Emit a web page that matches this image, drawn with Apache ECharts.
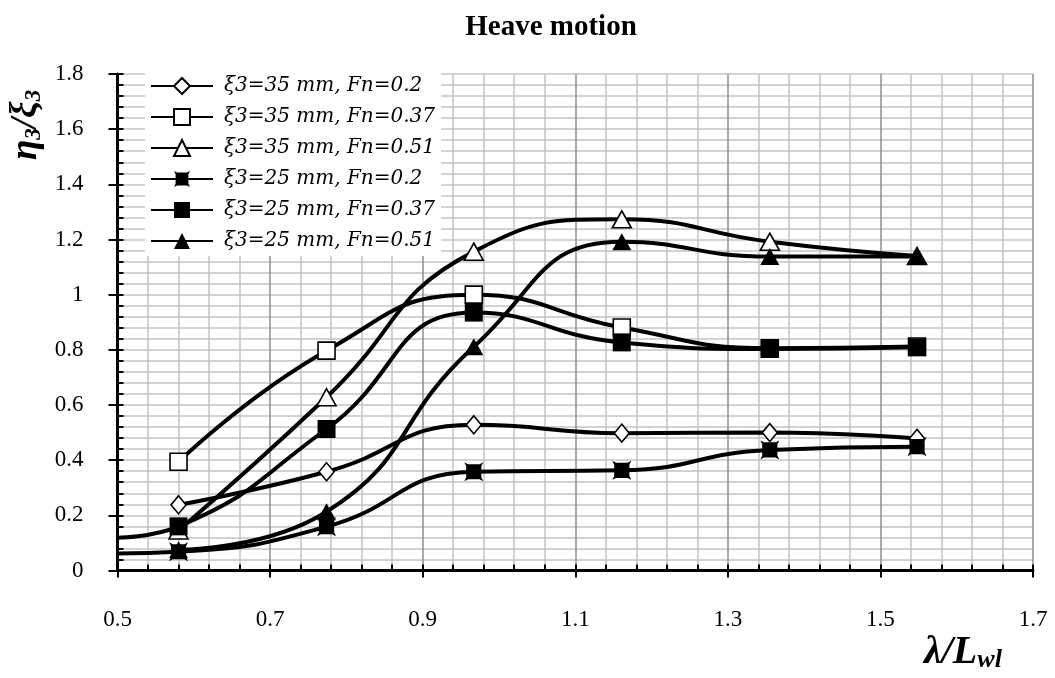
<!DOCTYPE html>
<html>
<head>
<meta charset="utf-8">
<title>Heave motion</title>
<script src="https://cdn.jsdelivr.net/npm/echarts@6/dist/echarts.min.js"></script>
<style>
  html, body { margin: 0; padding: 0; background: #fff; }
  #heave_ec { width: 1055px; height: 678px; }
</style>
</head>
<body>
<div id="heave_ec"></div>
<script>
// wave length ratio λ/Lwl of the test runs
const lambdaX = [0.58, 0.774, 0.967, 1.161, 1.355, 1.548]
// η3/ξ3 for every run
const amp35Fn020 = [0.238, 0.358, 0.528, 0.498, 0.5, 0.479]
const amp35Fn037 = [0.394, 0.797, 1.0, 0.881, 0.806, 0.812]
const amp35Fn051 = [0.145, 0.628, 1.156, 1.273, 1.192, 1.14]
const amp25Fn020 = [0.068, 0.159, 0.358, 0.363, 0.437, 0.449]
const amp25Fn037 = [0.16, 0.513, 0.935, 0.827, 0.803, 0.809]
const amp25Fn051 = [0.075, 0.213, 0.811, 1.192, 1.138, 1.138]
// the curve of two runs starts at the left edge of the plot, no marker there
const edgeX = 0.5
const edge25Fn020 = 0.062
const edge25Fn037 = 0.119
const xTicks = [0.5, 0.7, 0.9, 1.1, 1.3, 1.5, 1.7]
const yTicks = [0, 0.2, 0.4, 0.6, 0.8, 1, 1.2, 1.4, 1.6, 1.8]

const seriesNames = [
  'ξ3=35 mm, Fn=0.2',
  'ξ3=35 mm, Fn=0.37',
  'ξ3=35 mm, Fn=0.51',
  'ξ3=25 mm, Fn=0.2',
  'ξ3=25 mm, Fn=0.37',
  'ξ3=25 mm, Fn=0.51',
]

const serifFont = '"Liberation Serif", "DejaVu Serif", serif'
const squareX = 'path://M0,0 L4,2 L16,2 L20,0 L18,4 L18,16 L20,20 L16,18 L4,18 L0,20 L2,16 L2,4 Z'

function pairs(values, startY) {
  const pts = lambdaX.map((x, i) => [x, values[i]])
  if (startY !== undefined) {
    pts.unshift({ value: [edgeX, startY], symbol: 'none' })
  }
  return pts
}

function makeSeries(name, values, symbol, size, filled, startY) {
  return {
    name: name,
    type: 'line',
    smooth: true,
    symbol: symbol,
    symbolSize: size,
    showAllSymbol: true,
    lineStyle: { color: '#000', width: 4 },
    itemStyle: {
      color: filled ? '#000' : '#fff',
      borderColor: '#000',
      borderWidth: filled ? 0 : 1.6,
    },
    emphasis: { disabled: true },
    data: pairs(values, startY),
  }
}

const myChart = echarts.init(document.getElementById('heave_ec'))
const minorGrid = { color: '#c4c4c4', width: 1.5 }
const nameStyle = {
  fontFamily: serifFont, fontSize: 37, fontWeight: 'bold', fontStyle: 'italic', lineHeight: 40,
}
const subStyle = {
  fontFamily: serifFont, fontSize: 23, fontWeight: 'bold', fontStyle: 'italic',
  verticalAlign: 'bottom', lineHeight: 40, padding: [15, 0, 0, 0],
}
const option = {
  backgroundColor: '#fff',
  animation: false,
  grid: { left: 117.5, right: 22, top: 74, bottom: 107.5 },
  legend: {
    orient: 'vertical',
    left: 145,
    top: 71,
    padding: [5, 6, 5, 5],
    backgroundColor: '#fff',
    itemWidth: 62,
    itemHeight: 20,
    itemGap: 11,
    data: seriesNames,
    textStyle: {
      fontFamily: '"DejaVu Serif", serif',
      fontStyle: 'italic',
      fontSize: 20,
      color: '#000',
      padding: [0, 0, 0, 6],
    },
  },
  xAxis: [
    {
      type: 'value',
      position: 'bottom',
      min: xTicks[0],
      max: xTicks[xTicks.length - 1],
      interval: 0.2,
      axisLine: { lineStyle: { color: '#000', width: 3 } },
      axisTick: { inside: true, length: 6, lineStyle: { color: '#000', width: 2 } },
      minorTick: { show: true, splitNumber: 5, length: 6, lineStyle: { color: '#000', width: 2 } },
      splitLine: { show: true, lineStyle: { color: '#8f8f8f', width: 1.5 } },
      minorSplitLine: { show: true, lineStyle: minorGrid },
      axisLabel: { margin: 38, fontFamily: serifFont, fontSize: 23, color: '#000' },
      z: 3,
    },
    {
      // outer half of the major ticks
      type: 'value',
      position: 'bottom',
      min: xTicks[0],
      max: xTicks[xTicks.length - 1],
      interval: 0.2,
      axisLine: { show: false },
      axisTick: { length: 7, lineStyle: { color: '#000', width: 2 } },
      axisLabel: { show: false },
      splitLine: { show: false },
    },
  ],
  yAxis: [
    {
      type: 'value',
      position: 'left',
      min: yTicks[0],
      max: yTicks[yTicks.length - 1],
      interval: 0.2,
      axisLine: { show: true, lineStyle: { color: '#000', width: 3 } },
      axisTick: { show: true, inside: true, length: 6, lineStyle: { color: '#000', width: 2 } },
      minorTick: { show: true, splitNumber: 5, length: 6, lineStyle: { color: '#000', width: 2 } },
      splitLine: { show: true, lineStyle: minorGrid },
      minorSplitLine: { show: true, lineStyle: minorGrid },
      axisLabel: { margin: 34, fontFamily: serifFont, fontSize: 23, color: '#000' },
      z: 3,
    },
    {
      type: 'value',
      position: 'left',
      min: yTicks[0],
      max: yTicks[yTicks.length - 1],
      interval: 0.2,
      axisLine: { show: false },
      axisTick: { show: true, length: 9, lineStyle: { color: '#000', width: 2 } },
      axisLabel: { show: false },
      splitLine: { show: false },
    },
  ],
  graphic: [
    {
      type: 'text',
      x: 551,
      y: 13,
      style: {
        text: 'Heave motion',
        font: 'bold 29px ' + serifFont,
        fill: '#000',
        align: 'center',
      },
    },
    {
      type: 'text',
      x: 6,
      y: 160,
      rotation: Math.PI / 2,
      style: {
        text: '{b|η}{s|3}{b|/ξ}{s|3}',
        fill: '#000',
        rich: { b: nameStyle, s: subStyle },
      },
    },
    {
      type: 'text',
      x: 924,
      y: 633,
      style: {
        text: '{b|λ/L}{s|wl}',
        fill: '#000',
        rich: {
          b: Object.assign({}, nameStyle, { fontSize: 40 }),
          s: Object.assign({}, subStyle, { fontSize: 26 }),
        },
      },
    },
  ],
  series: [
    makeSeries(seriesNames[0], amp35Fn020, 'diamond', [15, 18], false),
    makeSeries(seriesNames[1], amp35Fn037, 'rect', [17, 17], false),
    makeSeries(seriesNames[2], amp35Fn051, 'triangle', [19, 17], false),
    makeSeries(seriesNames[3], amp25Fn020, squareX, [19, 19], true, edge25Fn020),
    makeSeries(seriesNames[4], amp25Fn037, 'rect', [18, 18], true, edge25Fn037),
    makeSeries(seriesNames[5], amp25Fn051, 'triangle', [19, 17], true),
  ],
}
myChart.setOption(option)
</script>
</body>
</html>
